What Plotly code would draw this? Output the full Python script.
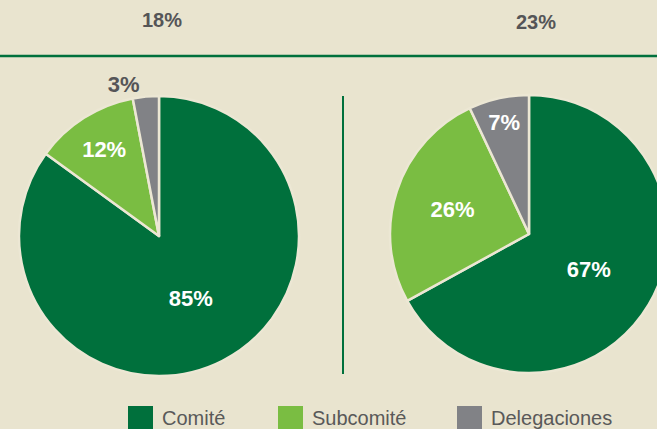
import plotly.graph_objects as go

# Figure is a bit wider than the 657px window so the right pie is clipped like the reference
W, H = 669, 429

categories = ["Comité", "Subcomité", "Delegaciones"]
left_values = [85, 12, 3]
right_values = [67, 26, 7]
top_labels = ["18%", "23%"]
colors = ["#00703c", "#7abd42", "#818286"]

BG = "#e9e4cf"
GREEN = "#00703c"
GRAY_TXT = "#555557"
FONT = "Liberation Sans, Arial, sans-serif"


def px(x):
    return x / W


def py(y):
    return 1 - y / H


fig = go.Figure()

common = dict(
    labels=categories,
    sort=False,
    direction="clockwise",
    rotation=0,
    marker=dict(colors=colors, line=dict(color="#ece7d4", width=2.5)),
    texttemplate="%{value}%",
    insidetextorientation="horizontal",
    insidetextfont=dict(family=FONT, size=22, color="white", weight="bold"),
    outsidetextfont=dict(family=FONT, size=22, color=GRAY_TXT, weight="bold"),
    hoverinfo="label+value",
    showlegend=False,
)

fig.add_trace(go.Pie(
    values=left_values,
    textposition=["inside", "inside", "outside"],
    domain=dict(x=[px(18), px(300)], y=[py(376), py(96)]),
    **common,
))
fig.add_trace(go.Pie(
    values=right_values,
    textposition="inside",
    domain=dict(x=[px(390), px(668)], y=[py(373), py(95)]),
    **common,
))

shapes = [
    dict(type="line", xref="paper", yref="paper", x0=0, x1=1, y0=py(56), y1=py(56),
         line=dict(color=GREEN, width=2.5)),
    dict(type="line", xref="paper", yref="paper", x0=px(343), x1=px(343), y0=py(96), y1=py(374),
         line=dict(color=GREEN, width=2)),
]
annotations = []

for lbl, cx, cy in zip(top_labels, [162, 536], [20, 22]):
    annotations.append(dict(text="<b>" + lbl + "</b>", x=px(cx), y=py(cy), xref="paper", yref="paper",
                            showarrow=False, xanchor="center", yanchor="middle",
                            font=dict(family=FONT, size=20, color=GRAY_TXT)))

legend_x = [128, 278, 457]
for cat, col, lx in zip(categories, colors, legend_x):
    shapes.append(dict(type="rect", xref="paper", yref="paper",
                       x0=px(lx), x1=px(lx + 25), y0=py(406 + 25), y1=py(406),
                       fillcolor=col, line=dict(width=0)))
    annotations.append(dict(text=cat, x=px(lx + 32), y=py(418), xref="paper", yref="paper",
                            showarrow=False, xanchor="left", yanchor="middle",
                            font=dict(family=FONT, size=20, color="#595959")))

fig.update_layout(
    width=W, height=H,
    margin=dict(l=0, r=0, t=0, b=0),
    paper_bgcolor=BG, plot_bgcolor=BG,
    shapes=shapes, annotations=annotations,
    font=dict(family=FONT),
)

fig.write_html(
    "out.html",
    config={"displayModeBar": False},
    post_script="document.body.style.margin='0';document.body.style.overflow='hidden';"
                "document.documentElement.style.overflow='hidden';",
)
